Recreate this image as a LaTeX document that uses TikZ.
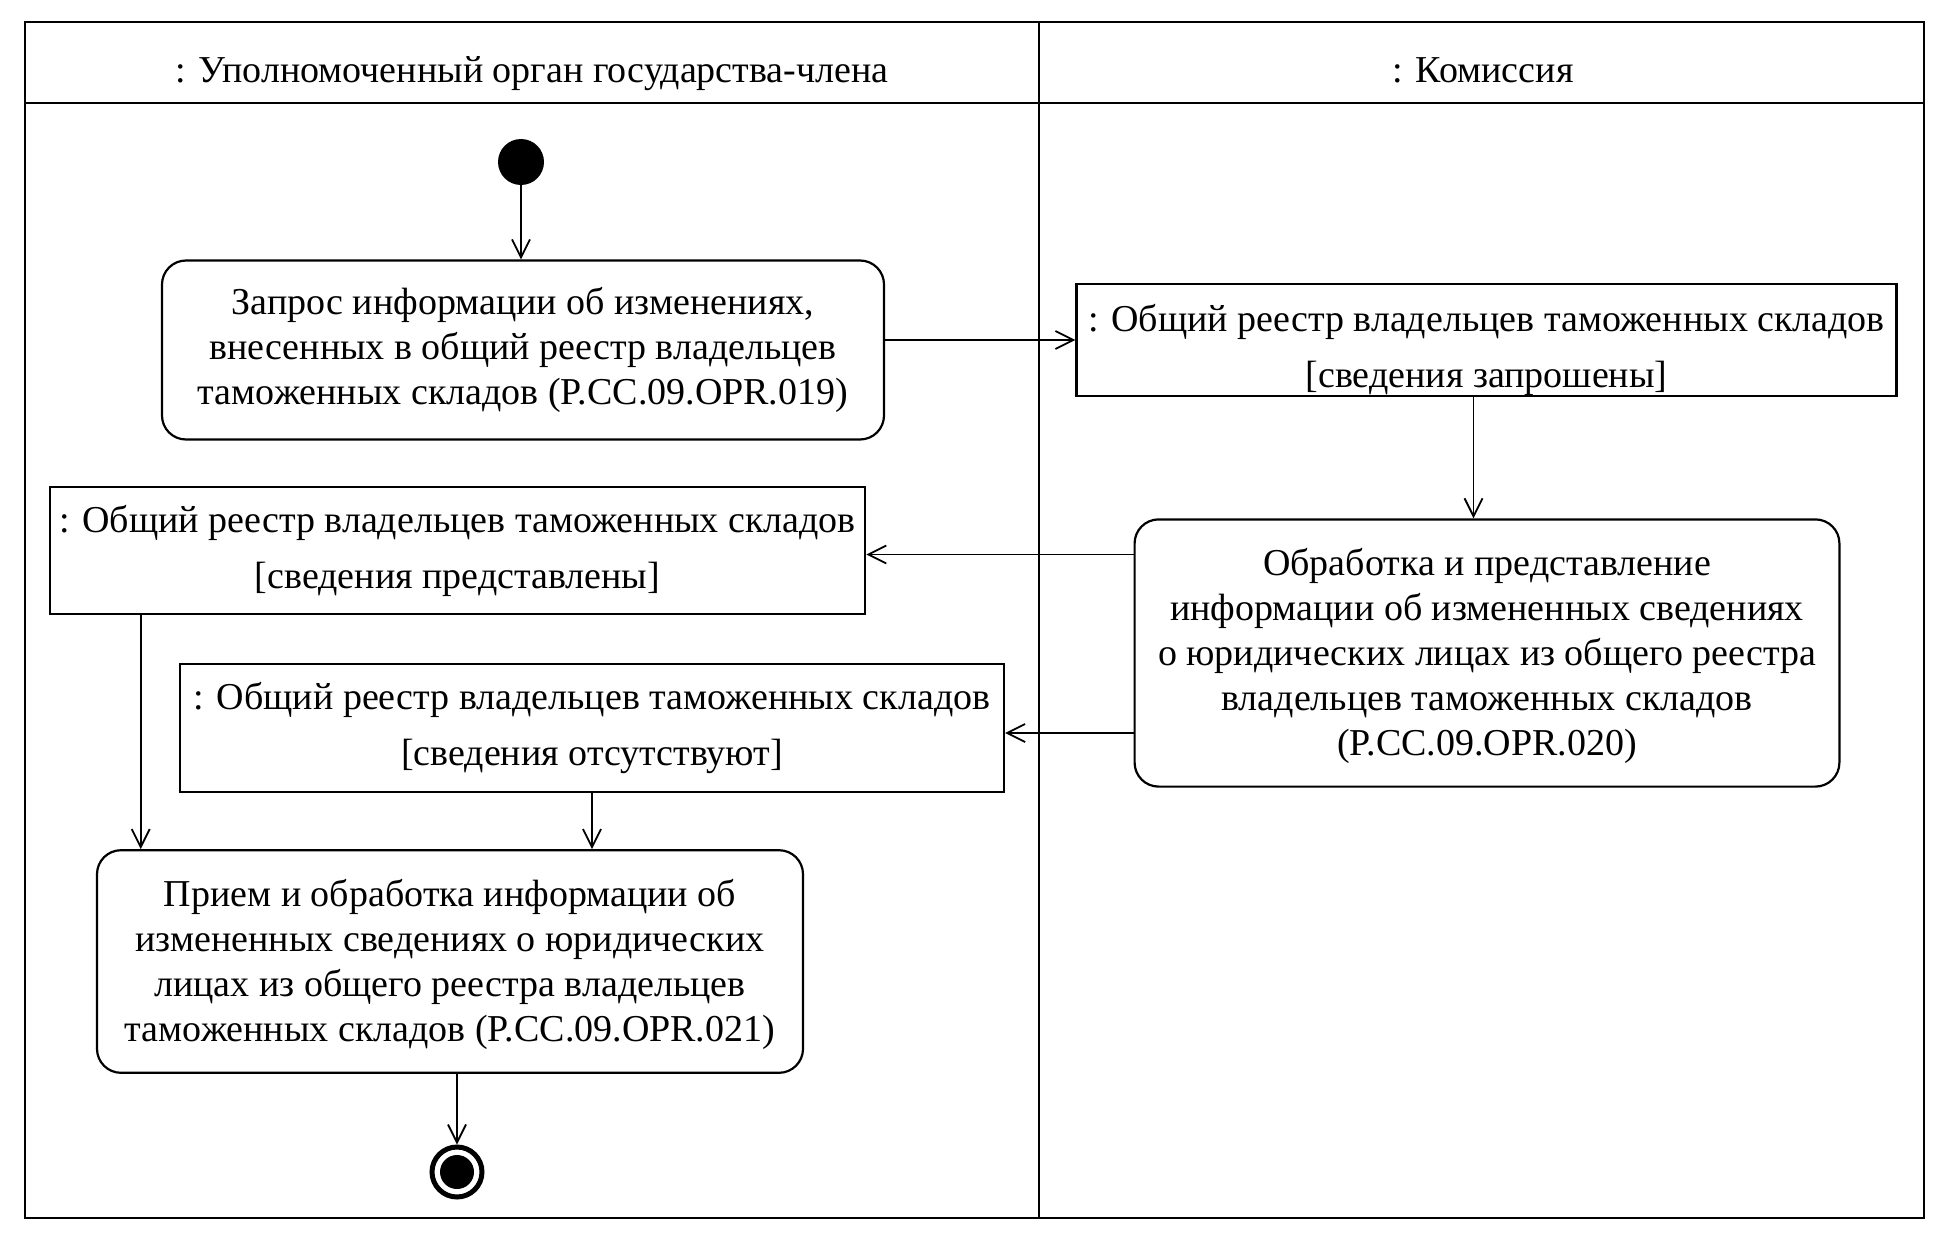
\documentclass[tikz,border=0pt]{standalone}
\usepackage{fontspec}
\setmainfont{Liberation Serif}
\usetikzlibrary{arrows.meta,positioning,calc}

\begin{document}
\begin{tikzpicture}[
    x=0.5pt, y=-0.5pt,
    font=\fontsize{19}{22.5}\selectfont,
    lane/.style={line width=1.3pt},
    header/.style={text height=14pt, text depth=4pt},
    action/.style={draw, rectangle, rounded corners=12pt, line width=1.1pt, align=center, inner sep=0pt},
    object/.style={draw, rectangle, line width=1.1pt, align=center, inner sep=0pt},
    flow/.style={-{Straight Barb[length=9pt,width=9pt]}, line width=0.9pt}
]
\useasboundingbox (0,0) rectangle (1949,1236);

% swimlanes
\draw[lane] (25,22) rectangle (1924,1218);
\draw[lane] (25,103) -- (1924,103);
\draw[lane] (1039,22) -- (1039,1218);
\node[header] (hdrA) at (532,73) {: Уполномоченный орган государства-члена};
\node[header] (hdrB) at (1483,73) {: Комиссия};

% nodes
\node[fill, circle, minimum size=23pt, inner sep=0pt] (start) at (521,162) {};
\node[action, minimum width=361pt, minimum height=89.5pt] (act1) at (523,350)
    {Запрос информации об изменениях,\\ внесенных в общий реестр владельцев\\ таможенных складов (P.CC.09.OPR.019)};
\node[object, minimum width=410pt, minimum height=55.3pt] (obj1) at (1486.5,340)
    {\rule{0pt}{24pt}: Общий реестр владельцев таможенных складов\\[5.5pt] [сведения запрошены]};
\node[action, minimum width=352.4pt, minimum height=133.6pt] (act2) at (1487,653)
    {\rule{0pt}{17pt}Обработка и представление\\ информации об измененных сведениях\\ о юридических лицах из общего реестра\\ владельцев таможенных складов\\ (P.CC.09.OPR.020)};
\node[object, minimum width=407.7pt, minimum height=63.3pt] (obj2) at (457.5,550.5)
    {: Общий реестр владельцев таможенных складов\\[5.5pt] [сведения представлены]};
\node[object, minimum width=412pt, minimum height=64pt] (obj3) at (592,728)
    {: Общий реестр владельцев таможенных складов\\[5.5pt] [сведения отсутствуют]};
\node[action, minimum width=353pt, minimum height=111.3pt] (act3) at (450,961.5)
    {\rule{0pt}{17pt}Прием и обработка информации об\\ измененных сведениях о юридических\\ лицах из общего реестра владельцев\\ таможенных складов (P.CC.09.OPR.021)};
\node[draw, circle, line width=2.5pt, minimum size=25pt, inner sep=0pt] (end) at (457,1172) {};
\node[fill, circle, minimum size=17pt, inner sep=0pt] (endDot) at (end) {};

% control flow
\draw[flow] (start) -- (start |- act1.north);
\draw[flow] (act1.east |- obj1.west) -- (obj1.west);
\draw[flow] ([xshift=-6.5pt]obj1.south) -- ([xshift=-6.5pt]obj1.south |- act2.north);
\draw[flow] ([yshift=-2pt]act2.west |- obj2.east) -- ([yshift=-2pt]obj2.east);
\draw[flow] ([yshift=-2.5pt]act2.west |- obj3.east) -- ([yshift=-2.5pt]obj3.east);
\draw[flow] ([xshift=46pt]obj2.south west) -- ([xshift=46pt]obj2.south west |- act3.north);
\draw[flow] (obj3.south) -- (obj3.south |- act3.north);
\draw[flow] (act3.south -| end) -- (end);
\end{tikzpicture}
\end{document}
